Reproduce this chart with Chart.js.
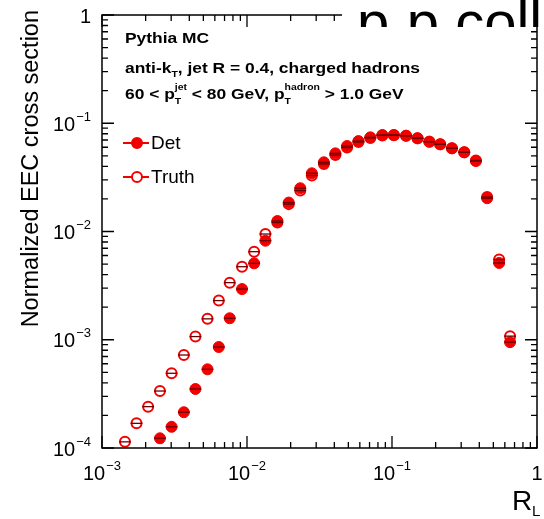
<!DOCTYPE html>
<html lang="en">
<head>
<meta charset="UTF-8">
<title>Normalized EEC cross section</title>
<script src="https://cdn.jsdelivr.net/npm/chart.js"></script>
<style>
    body { margin: 0; background: #fff; }
    .wrap { position: relative; width: 544px; height: 519px; }
    #slideTitle {
        position: absolute; left: 342px; top: 0; width: 202px; height: 27px;
        overflow: hidden; background: #fff;
    }
    #slideTitle span {
        position: absolute; left: 15px; top: -12px; line-height: 1;
        font: 58px "Liberation Sans", Arial, sans-serif; white-space: nowrap; color: #000;
    }
</style>
</head>
<body>
<div class="wrap">
    <canvas id="eec" width="544" height="519"></canvas>
    <div id="slideTitle"><span>p<span style="position:relative;top:-50px;font-size:30px">+</span>p collisions</span></div>
</div>
<script>
// R_L bin centres
const rl = [0.00144, 0.00173, 0.00208, 0.00251, 0.00302, 0.00367, 0.00441, 0.00534, 0.00639, 0.00760,
            0.00924, 0.0112, 0.0134, 0.0162, 0.0194, 0.0233, 0.0280, 0.0339, 0.0407, 0.0490,
            0.0587, 0.0709, 0.0858, 0.103, 0.125, 0.150, 0.181, 0.215, 0.259, 0.315,
            0.379, 0.453, 0.548, 0.652];
const det = [null, null, null, 1.23e-4, 1.57e-4, 2.14e-4, 3.51e-4, 5.33e-4, 8.57e-4, 1.58e-3,
             2.94e-3, 5.08e-3, 8.22e-3, 1.25e-2, 1.85e-2, 2.51e-2, 3.45e-2, 4.36e-2, 5.27e-2, 6.16e-2,
             6.85e-2, 7.41e-2, 7.79e-2, 7.79e-2, 7.67e-2, 7.26e-2, 6.76e-2, 6.39e-2, 5.87e-2, 5.39e-2,
             4.48e-2, 2.03e-2, 5.12e-3, 9.5e-4];
const truth = [1.14e-4, 1.69e-4, 2.41e-4, 3.36e-4, 4.90e-4, 7.23e-4, 1.07e-3, 1.56e-3, 2.30e-3, 3.37e-3,
               4.73e-3, 6.51e-3, 9.48e-3, 1.21e-2, 1.79e-2, 2.39e-2, 3.29e-2, 4.21e-2, 5.09e-2, 5.97e-2,
               6.71e-2, 7.31e-2, 7.72e-2, 7.75e-2, 7.67e-2, 7.26e-2, 6.76e-2, 6.39e-2, 5.87e-2, 5.39e-2,
               4.53e-2, 2.08e-2, 5.51e-3, 1.08e-3];
const halfBin = 0.04; // decades

const xTicks = [0.001, 0.01, 0.1, 1];
const xTickExp = ['\u22123', '\u22122', '\u22121', ''];
const yTicks = [1, 0.1, 0.01, 0.001, 0.0001];
const yTickExp = ['', '\u22121', '\u22122', '\u22123', '\u22124'];

const RED = '#f20000';
const FONT = '"Liberation Sans", Arial, sans-serif';

function pts(ys) {
    return rl.map((x, i) => ({ x: x, y: ys[i] })).filter(p => p.y !== null);
}

// label like 10^-2 (or plain 1)
function powLabel(ctx, x, y, exp, align) {
    const base = exp === '' ? '1' : '10';
    ctx.font = '20px ' + FONT;
    const wb = ctx.measureText(base).width;
    ctx.font = '13px ' + FONT;
    const we = exp === '' ? 0 : ctx.measureText(exp).width + 1;
    const w = wb + we;
    let x0 = align === 'right' ? x - w : x - w / 2;
    ctx.textBaseline = 'middle';
    ctx.textAlign = 'left';
    ctx.font = '20px ' + FONT;
    ctx.fillText(base, x0, y);
    if (exp !== '') {
        ctx.font = '13px ' + FONT;
        ctx.fillText(exp, x0 + wb + 1, y - 8);
    }
}

const rootStyle = {
    id: 'rootStyle',
    afterDatasetsDraw(chart) {
        const ctx = chart.ctx, xs = chart.scales.x, ys = chart.scales.y;
        ctx.save();
        ctx.strokeStyle = '#6a0000';
        ctx.lineWidth = 1.3;
        [det, truth].forEach(series => {
            series.forEach((v, i) => {
                if (v === null) return;
                const y = ys.getPixelForValue(v);
                ctx.beginPath();
                ctx.moveTo(xs.getPixelForValue(rl[i] / Math.pow(10, halfBin)), y);
                ctx.lineTo(xs.getPixelForValue(rl[i] * Math.pow(10, halfBin)), y);
                ctx.stroke();
            });
        });
        ctx.restore();
    },
    afterDraw(chart) {
        const ctx = chart.ctx, xs = chart.scales.x, ys = chart.scales.y;
        const a = chart.chartArea;
        ctx.save();
        ctx.strokeStyle = '#000';
        ctx.fillStyle = '#000';
        ctx.lineWidth = 1.5;
        ctx.strokeRect(a.left, a.top, a.right - a.left, a.bottom - a.top);

        // ticks on all four sides
        ctx.lineWidth = 1.3;
        ctx.beginPath();
        for (let d = -3; d <= 0; d++) {
            for (let m = 1; m <= 9; m++) {
                const v = m * Math.pow(10, d);
                if (v > 1.0001) break;
                const len = m === 1 ? 12 : 6;
                const px = xs.getPixelForValue(v);
                ctx.moveTo(px, a.bottom); ctx.lineTo(px, a.bottom - len);
                ctx.moveTo(px, a.top); ctx.lineTo(px, a.top + len);
            }
        }
        for (let d = -4; d <= 0; d++) {
            for (let m = 1; m <= 9; m++) {
                const v = m * Math.pow(10, d);
                if (v > 1.0001) break;
                const len = m === 1 ? 12 : 6;
                const py = ys.getPixelForValue(v);
                ctx.moveTo(a.left, py); ctx.lineTo(a.left + len, py);
                ctx.moveTo(a.right, py); ctx.lineTo(a.right - len, py);
            }
        }
        ctx.stroke();

        // tick labels
        xTicks.forEach((v, i) => powLabel(ctx, xs.getPixelForValue(v), a.bottom + 26, xTickExp[i], 'center'));
        yTicks.forEach((v, i) => powLabel(ctx, a.left - 11, ys.getPixelForValue(v) + 2, yTickExp[i], 'right'));

        // axis titles
        ctx.save();
        ctx.translate(32, 10);
        ctx.rotate(-Math.PI / 2);
        ctx.font = '23.5px ' + FONT;
        ctx.textAlign = 'right';
        ctx.textBaseline = 'middle';
        ctx.fillText('Normalized EEC cross section', 0, 0);
        ctx.restore();

        ctx.textAlign = 'left';
        ctx.textBaseline = 'alphabetic';
        ctx.font = '28px ' + FONT;
        ctx.fillText('R', 512, 510);
        ctx.font = '15px ' + FONT;
        ctx.fillText('L', 532, 516);

        // annotation (slightly wide bold face, as in the original)
        const tx = a.left + 23;
        ctx.save();
        ctx.translate(tx, 0);
        ctx.scale(1.16, 1);
        const big = 'bold 15px ' + FONT, small = 'bold 9px ' + FONT;
        ctx.font = big;
        ctx.fillText('Pythia MC', 0, 43);
        let x = 0;
        const put = (s, yb, f) => { ctx.font = f; ctx.fillText(s, x, yb); x += ctx.measureText(s).width; };
        put('anti-k', 73, big);
        put('T', 77, small);
        put(', jet R = 0.4, charged hadrons', 73, big);
        x = 0;
        put('60 < p', 99, big);
        let sx = x;
        put('T', 104, small);
        x = sx; put('jet', 90, small);
        put(' < 80 GeV, p', 99, big);
        sx = x;
        put('T', 104, small);
        x = sx; put('hadron', 90, small);
        put(' > 1.0 GeV', 99, big);
        ctx.restore();

        // legend
        const entries = [['Det', true, 143], ['Truth', false, 177]];
        entries.forEach(([label, filled, ly]) => {
            ctx.strokeStyle = RED;
            ctx.lineWidth = 2;
            ctx.beginPath();
            ctx.moveTo(a.left + 21, ly); ctx.lineTo(a.left + 47, ly);
            ctx.stroke();
            ctx.beginPath();
            ctx.arc(a.left + 35, ly, 5, 0, Math.PI * 2);
            ctx.fillStyle = filled ? RED : '#fff';
            ctx.fill();
            ctx.stroke();
            ctx.fillStyle = '#000';
            ctx.font = '19px ' + FONT;
            ctx.textBaseline = 'middle';
            ctx.fillText(label, a.left + 49, ly + 1);
        });
        ctx.restore();
    }
};

new Chart(document.getElementById('eec').getContext('2d'), {
    type: 'scatter',
    data: {
        datasets: [{
            label: 'Det',
            data: pts(det),
            pointRadius: 5.5,
            pointHoverRadius: 5.5,
            pointBackgroundColor: RED,
            pointBorderColor: RED,
            pointBorderWidth: 1
        }, {
            label: 'Truth',
            data: pts(truth),
            pointRadius: 5,
            pointHoverRadius: 5,
            pointBackgroundColor: '#fff',
            pointBorderColor: RED,
            pointBorderWidth: 2
        }]
    },
    options: {
        responsive: false,
        animation: false,
        layout: { padding: { left: 102, right: 6, top: 15, bottom: 71 } },
        plugins: { legend: { display: false }, tooltip: { enabled: false } },
        scales: {
            x: {
                type: 'logarithmic', min: 0.001, max: 1,
                ticks: { display: false }, grid: { display: false, drawTicks: false }, border: { display: false }
            },
            y: {
                type: 'logarithmic', min: 0.0001, max: 1,
                ticks: { display: false }, grid: { display: false, drawTicks: false }, border: { display: false }
            }
        }
    },
    plugins: [rootStyle]
});
</script>
</body>
</html>
